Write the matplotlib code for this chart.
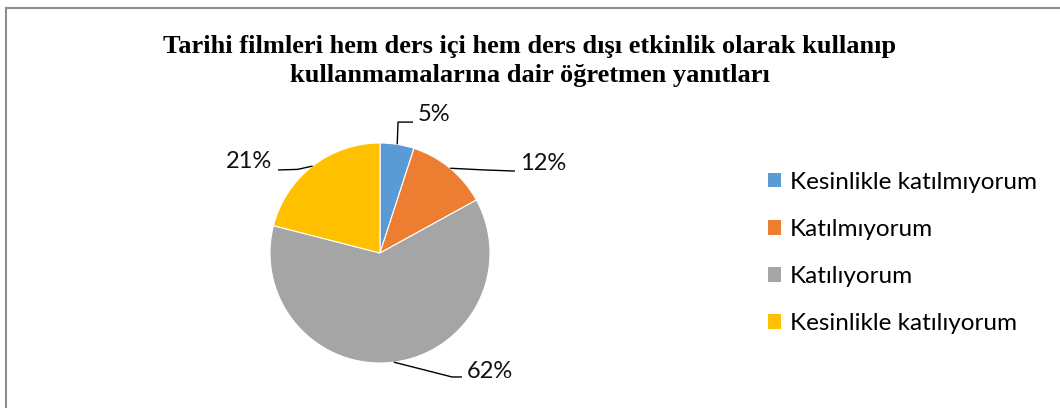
import numpy as np
import matplotlib
matplotlib.use('Agg')
import matplotlib.pyplot as plt
from matplotlib.lines import Line2D
from matplotlib.patches import Patch

# data
categories = ['Kesinlikle katılmıyorum', 'Katılmıyorum', 'Katılıyorum', 'Kesinlikle katılıyorum']
values = [5, 12, 62, 21]
colors = ['#5B9BD5', '#ED7D31', '#A5A5A5', '#FFC000']
title = 'Tarihi filmleri hem ders içi hem ders dışı etkinlik olarak kullanıp\nkullanmamalarına dair öğretmen yanıtları'

W, H = 1060, 408
fig = plt.figure(figsize=(W / 100, H / 100), dpi=100)

# pie axes: 1 data unit = 110 px, pie centre at pixel (380, 253)
R = 110.0
cx, cy = 380, H - 253
ax = fig.add_axes([0, 0, 1, 1])
wedges, _ = ax.pie(values, colors=colors, startangle=90, counterclock=False,
                   radius=1.0, wedgeprops=dict(edgecolor='white', linewidth=0.8))
ax.set_xlim(-cx / R, (W - cx) / R)
ax.set_ylim(-cy / R, (H - cy) / R)
ax.set_aspect('equal')
ax.axis('off')

# leader lines and labels: (elbow, end, text pos, ha)
label_layout = [
    ((0.164, 1.19), (0.30, 1.19), (0.34, 1.255), 'left'),
    ((0.95, 0.755), (1.227, 0.745), (1.27, 0.818), 'left'),
    ((0.655, -1.127), (0.745, -1.127), (0.79, -1.073), 'left'),
    ((-0.75, 0.76), (-0.927, 0.755), (-0.98, 0.836), 'right'),
]
lab_font = ['Lato', 'DejaVu Sans']
for w, v, (elbow, end, tpos, ha) in zip(wedges, values, label_layout):
    ang = np.deg2rad((w.theta1 + w.theta2) / 2)
    p0 = (np.cos(ang), np.sin(ang))
    ax.plot([p0[0], elbow[0], end[0]], [p0[1], elbow[1], end[1]],
            color='black', lw=1.0, solid_capstyle='butt')
    ax.text(tpos[0], tpos[1], f'{v}%', ha=ha, va='center', fontsize=17,
            family=lab_font, color='#111111')

fig.text(0.5, (H - 61) / H, title, ha='center', va='center', fontsize=19,
         fontweight='bold', family=['Liberation Serif', 'DejaVu Serif'],
         linespacing=1.3)

handles = [Patch(facecolor=c, edgecolor='none') for c in colors]
fig.legend(handles, categories, loc='center left',
           bbox_to_anchor=(746 / W, (H - 253) / H), frameon=False,
           prop=dict(family=lab_font, size=17.5), handlelength=0.55,
           handleheight=0.55, handletextpad=0.37, labelspacing=1.08)

# chart border (top and left visible)
fig.add_artist(Line2D([6 / W, 1], [(H - 8) / H, (H - 8) / H], color='#8C8C8C', lw=1.5))
fig.add_artist(Line2D([6 / W, 6 / W], [0, (H - 8) / H], color='#8C8C8C', lw=1.5))

fig.savefig('out.png', dpi=100, facecolor='white')
